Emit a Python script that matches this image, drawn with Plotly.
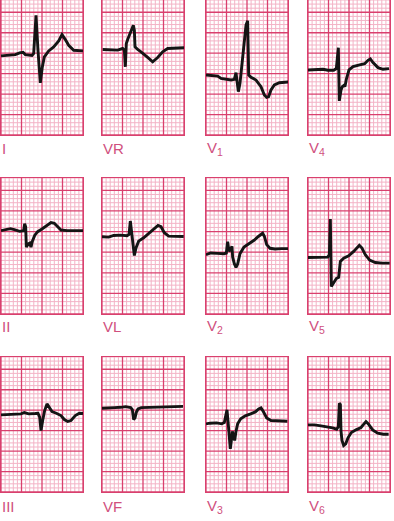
import plotly.graph_objects as go

# ---- data: time (mm of paper, 25 mm/s) and amplitude (mm, 10 mm/mV) ----
I_t  = [0, 1.46, 3.5, 4.55, 5.37, 5.93, 7.56, 7.97, 8.54, 9.02, 9.59, 10.08, 10.57, 11.63, 12.85, 14.07, 14.88, 15.69, 16.5, 17.72, 18.94, 20.0]
I_a  = [-0.16, -0.08, 0.16, 0.57, 0.73, 0.16, -0.08, 0.41, 9.76, 1.22, -6.75, -2.85, -0.41, 1.06, 2.03, 3.5, 5.04, 3.82, 2.44, 1.22, 1.06, 1.06]

VR_t = [0.16, 2.2, 3.82, 5.04, 5.45, 5.69, 5.93, 6.26, 6.67, 7.07, 7.64, 7.89, 8.05, 8.7, 9.51, 11.14, 12.36, 13.58, 14.8, 16.02, 18.05, 20]
VR_a = [0, -0.16, -0.16, 0.24, -0.16, -4.23, 1.46, 2.44, 3.5, 4.31, 5.93, 4.72, 0.65, 0, -0.57, -1.95, -3.0, -1.95, -0.57, 0.24, 0.41, 0.41]

V1_t = [0, 1.22, 2.85, 3.66, 4.88, 6.1, 6.91, 7.32, 7.64, 7.89, 8.29, 8.78, 9.35, 9.76, 10.16, 10.33, 10.41, 10.98, 12.2, 13.41, 14.23, 14.8, 15.28, 15.85, 16.67, 17.89, 19.11, 20.16]
V1_a = [1.06, 0.98, 0.81, 0.24, 0, -0.16, 0, 1.63, -0.98, -3.01, -0.98, 3.9, 9.59, 13.25, 14.31, 7.97, 1.06, 0.49, -0.16, -1.79, -3.82, -4.39, -4.23, -2.6, -1.38, -0.81, -0.65, -0.65]

V4_t = [0, 2.03, 3.66, 4.88, 6.26, 6.91, 7.4, 7.64, 8.05, 8.37, 8.78, 9.02, 9.35, 10.0, 10.98, 12.6, 13.82, 14.63, 15.2, 15.85, 17.07, 18.29, 19.76]
V4_a = [0, 0, 0.16, -0.08, -0.08, 0.33, 5.45, -7.56, -4.88, -4.07, -3.74, -4.07, -2.28, 0, 0.81, 1.22, 1.54, 2.36, 2.68, 1.79, 0.57, 0.16, 0.33]

II_t = [0, 1.06, 2.28, 3.25, 4.55, 5.53, 5.77, 6.02, 6.18, 6.67, 6.99, 7.32, 7.64, 8.21, 8.94, 10.0, 11.22, 12.2, 13.01, 13.82, 14.63, 16.1, 18.13, 20.16]
II_a = [-0.08, 0.08, 0.41, 0.16, -0.24, -0.08, 1.63, 0.81, -4.07, -3.25, -3.09, -4.07, -2.68, -1.22, -0.33, 0.33, 1.22, 1.87, 1.71, 0.81, 0.08, -0.08, -0.08, -0.08]

VL_t = [0, 1.63, 2.85, 4.47, 6.1, 6.59, 6.91, 7.24, 7.56, 7.89, 8.29, 8.94, 10.16, 11.38, 12.6, 13.66, 14.39, 15.2, 16.26, 17.89, 19.92]
VL_a = [-0.16, -0.24, 0.16, 0.24, 0.08, 0.41, 3.66, 1.22, -2.44, -4.72, -2.85, -1.22, -0.41, 0.65, 1.79, 2.6, 2.28, 0.81, 0, -0.08, -0.08]

V2_t = [0, 1.14, 2.76, 4.39, 4.96, 5.28, 5.61, 5.93, 6.34, 6.5, 6.91, 7.32, 7.72, 8.29, 9.27, 10.57, 11.71, 12.85, 13.82, 14.23, 14.8, 15.61, 16.83, 18.46, 20.33]
V2_a = [-0.41, 0, -0.08, -0.16, 0, 2.76, 0.41, 0.81, 1.63, -0.98, -2.6, -3.5, -2.68, -0.16, 1.46, 2.28, 3.09, 4.07, 4.8, 4.07, 2.03, 1.14, 0.98, 1.06, 1.06]

V5_t = [0, 1.79, 3.41, 4.8, 5.2, 5.45, 5.69, 6.1, 6.91, 7.48, 7.89, 8.7, 9.92, 11.14, 11.95, 12.52, 13.17, 13.98, 15.04, 16.42, 18.05, 19.92]
V5_a = [-0.08, -0.08, 0, 0, 0.57, 9.27, -7.15, -6.5, -5.2, -4.88, -1.06, -0.24, 0.33, 1.38, 2.36, 2.85, 2.2, 0.57, -0.73, -1.3, -1.46, -1.46]

III_t = [0, 1.46, 3.25, 4.88, 5.69, 6.75, 8.37, 9.02, 9.43, 9.76, 10.16, 10.65, 11.22, 11.71, 12.44, 13.5, 14.63, 15.45, 16.26, 17.07, 18.13, 19.11, 20.0]
III_a = [-0.24, -0.16, -0.16, 0, 0.33, 0, 0.08, 0.16, -0.81, -4.07, -1.63, 0.81, 2.44, 1.54, 0.57, 0.16, -0.41, -1.38, -1.87, -1.63, -0.41, 0.16, 0.08]

VF_t = [0, 1.46, 3.09, 4.55, 5.77, 6.99, 7.4, 7.72, 8.05, 8.37, 8.78, 9.59, 11.22, 13.66, 16.1, 18.13, 19.76]
VF_a = [-0.24, -0.08, -0.08, 0, 0.16, -0.08, -0.57, -3.01, -2.6, -1.22, -0.41, -0.08, 0, 0.08, 0.16, 0.24, 0.24]

V3_t = [0, 0.98, 2.6, 3.82, 4.47, 4.88, 5.12, 5.37, 5.61, 5.93, 6.18, 6.42, 6.67, 6.99, 7.32, 7.72, 8.46, 9.59, 10.89, 12.03, 12.85, 13.41, 13.98, 14.8, 15.85, 17.64, 19.84]
V3_a = [-0.24, -0.08, 0, -0.24, 0.08, 2.6, 3.17, 0.41, -2.03, -6.34, -4.31, -2.11, -2.85, -4.31, -2.03, -0.24, 0.98, 1.71, 2.2, 2.68, 3.41, 3.66, 2.76, 1.22, 0.57, 0.57, 0.41]

V6_t = [0, 1.54, 3.17, 4.8, 6.02, 6.99, 7.4, 7.64, 7.89, 8.05, 8.29, 8.7, 9.19, 9.76, 10.57, 11.71, 12.93, 13.66, 14.15, 14.72, 15.77, 16.99, 18.37, 19.67]
V6_a = [0.41, 0.41, 0.16, -0.08, -0.33, -0.65, 0, 5.69, 5.37, -1.14, -3.41, -4.63, -4.23, -2.76, -1.46, -0.81, -0.24, 0.65, 1.22, 0.65, -0.81, -1.63, -1.87, -1.87]

lead_names = ["I", "VR", "V1", "V4", "II", "VL", "V2", "V5", "III", "VF", "V3", "V6"]
lead_labels = ["I", "VR", "V<sub>1</sub>", "V<sub>4</sub>", "II", "VL", "V<sub>2</sub>", "V<sub>5</sub>",
               "III", "VF", "V<sub>3</sub>", "V<sub>6</sub>"]
series = [(I_t, I_a), (VR_t, VR_a), (V1_t, V1_a), (V4_t, V4_a),
          (II_t, II_a), (VL_t, VL_a), (V2_t, V2_a), (V5_t, V5_a),
          (III_t, III_a), (VF_t, VF_a), (V3_t, V3_a), (V6_t, V6_a)]

# ---- layout ----
W, H = 394, 521
col_px = [(1, 83), (102, 184), (206, 288), (308, 390)]
row_px = [(0, 135), (178, 314), (357, 492)]
label_y_px = [148, 326, 506]
# baseline height above panel bottom (mm)
baseline = [19.5, 20.9, 13.6, 15.9, 20.3, 18.9, 14.8, 13.8, 19.1, 20.7, 16.9, 16.0]
SPAN_X, SPAN_Y = 20, 33

MAJOR = "#d9406e"
MINOR = "#f3b3c6"
TEXTC = "#d0507e"

fig = go.Figure()
layout = dict(width=W, height=H, margin=dict(l=0, r=0, t=0, b=0),
              paper_bgcolor="white", plot_bgcolor="white", showlegend=False)
annotations = []
minor_shapes, major_shapes = [], []

for i, (name, lab, (t, a)) in enumerate(zip(lead_names, lead_labels, series)):
    r, c = divmod(i, 4)
    k = i + 1
    xs = "" if k == 1 else str(k)
    x0, x1 = col_px[c]
    y0, y1 = row_px[r]
    b = baseline[i]
    common = dict(showticklabels=False, ticks="", zeroline=False, showgrid=False,
                  showline=True, linecolor=MAJOR, linewidth=1.3, mirror=True, fixedrange=True)
    layout["xaxis" + xs] = dict(domain=[x0 / W, x1 / W], range=[0, SPAN_X], anchor="y" + xs, **common)
    layout["yaxis" + xs] = dict(domain=[1 - y1 / H, 1 - y0 / H], range=[-b, SPAN_Y - b], anchor="x" + xs, **common)
    xr, yr = "x" + xs, "y" + xs
    for g in range(0, SPAN_X + 1):
        s = dict(type="line", xref=xr, yref=yr, x0=g, x1=g, y0=-b, y1=SPAN_Y - b, layer="below",
                 line=dict(color=MAJOR if g % 5 == 0 else MINOR, width=1.3 if g % 5 == 0 else 1))
        (major_shapes if g % 5 == 0 else minor_shapes).append(s)
    for g in range(0, SPAN_Y + 1):
        yy = -b + g
        s = dict(type="line", xref=xr, yref=yr, x0=0, x1=SPAN_X, y0=yy, y1=yy, layer="below",
                 line=dict(color=MAJOR if g % 5 == 0 else MINOR, width=1.3 if g % 5 == 0 else 1))
        (major_shapes if g % 5 == 0 else minor_shapes).append(s)
    fig.add_trace(go.Scatter(x=t, y=a, mode="lines", name=name,
                             line=dict(color="#141414", width=2.9),
                             xaxis=xr, yaxis=yr, hoverinfo="skip"))
    annotations.append(dict(text=lab, xref="paper", yref="paper",
                            x=(x0 - 1) / W, y=1 - label_y_px[r] / H,
                            xanchor="left", yanchor="middle", showarrow=False,
                            font=dict(family="Liberation Sans, Arial, sans-serif", size=15, color=TEXTC)))

layout["annotations"] = annotations
layout["shapes"] = minor_shapes + major_shapes
fig.update_layout(**layout)
fig.write_html("out.html")
